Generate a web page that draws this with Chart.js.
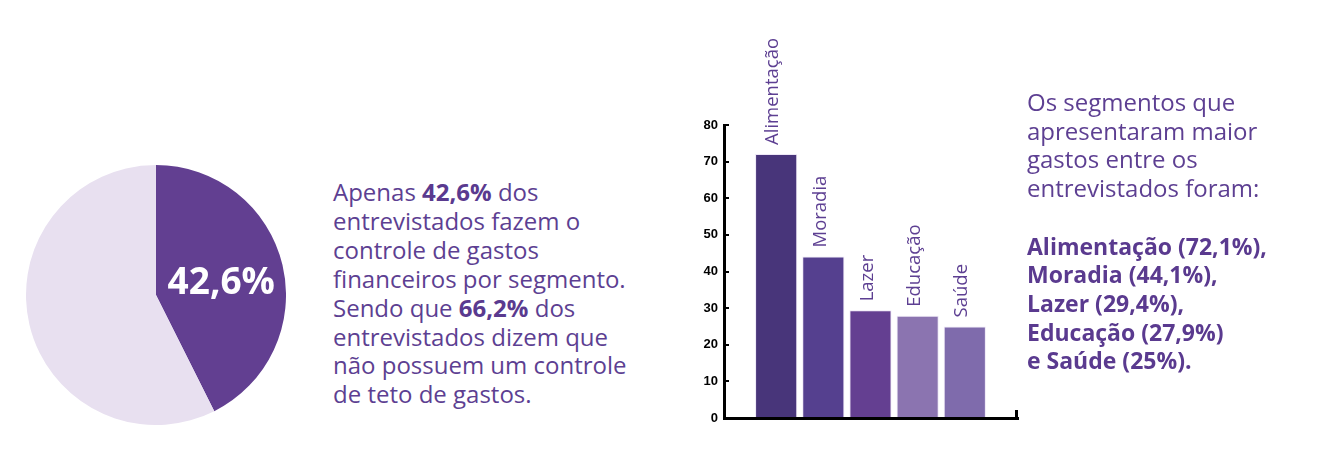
<!DOCTYPE html>
<html lang="pt-BR">
<head>
<meta charset="utf-8">
<script src="https://cdn.jsdelivr.net/npm/chart.js@4.4.1/dist/chart.umd.min.js"></script>
<style>
  html, body { margin: 0; padding: 0; background: #fff; }
  body { width: 1322px; height: 459px; position: relative; overflow: hidden; font-family: "Open Sans", sans-serif; color: #5d3f92; }
  .box { position: absolute; }
  .txt { position: absolute; font-size: 24px; line-height: 28.9px; white-space: nowrap; }
  .txt b { font-weight: 700; color: #5a3a8f; }
  .txt.right b { font-size: 23px; }
</style>
</head>
<body>
<div class="box" style="left:26px; top:165px; width:260px; height:260px;"><canvas id="pieChart"></canvas></div>
<div class="txt" style="left:333px; top:178px;">
  Apenas <b>42,6%</b> dos<br>
  entrevistados fazem o<br>
  controle de gastos<br>
  financeiros por segmento.<br>
  Sendo que <b>66,2%</b> dos<br>
  entrevistados dizem que<br>
  não possuem um controle<br>
  de teto de gastos.
</div>
<div class="box" style="left:690px; top:30px; width:340px; height:400px;"><canvas id="barChart"></canvas></div>
<div class="txt right" style="left:1027px; top:88px; line-height:28.7px;">
  Os segmentos que<br>
  apresentaram maior<br>
  gastos entre os<br>
  entrevistados foram:<br>
  <br>
  <b>Alimentação (72,1%),</b><br>
  <b>Moradia (44,1%),</b><br>
  <b>Lazer (29,4%),</b><br>
  <b>Educação (27,9%)</b><br>
  <b>e Saúde (25%).</b>
</div>
<script>
// pie: share of people who track spending per segment
const pieLabels = ['Fazem controle por segmento', 'Não fazem'];
const pieValues = [42.6, 57.4];
const pieColors = ['#623f91', '#e8e0f0'];

// bars: segments with highest spending (%)
const categories = ['Alimentação', 'Moradia', 'Lazer', 'Educação', 'Saúde'];
const values = [72.1, 44.1, 29.4, 27.9, 25];
const barColors = ['#48357a', '#55408f', '#643f91', '#8b74b0', '#7f6bac'];
const yMax = 80;
const yStep = 10;

Chart.defaults.animation = false;

const pieLabelPlugin = {
    id: 'pieLabel',
    afterDatasetsDraw(chart) {
        const arc = chart.getDatasetMeta(0).data[0];
        const p = arc.getCenterPoint();
        const ctx = chart.ctx;
        ctx.save();
        ctx.fillStyle = '#fff';
        ctx.font = '700 37px "Open Sans"';
        ctx.textAlign = 'center';
        ctx.textBaseline = 'middle';
        ctx.fillText(pieValues[0].toFixed(1).replace('.', ',') + '%', p.x + 2, p.y + 3);
        ctx.restore();
    }
};

new Chart(document.getElementById('pieChart').getContext('2d'), {
    type: 'pie',
    data: {
        labels: pieLabels,
        datasets: [{
            data: pieValues,
            backgroundColor: pieColors,
            borderWidth: 0
        }]
    },
    options: {
        responsive: true,
        maintainAspectRatio: false,
        layout: { padding: 0 },
        plugins: { legend: { display: false }, tooltip: { enabled: false } }
    },
    plugins: [pieLabelPlugin]
});

// rotated category names above each bar + small cap at the end of the x axis
const barLabelPlugin = {
    id: 'barLabels',
    afterDatasetsDraw(chart) {
        const ctx = chart.ctx;
        const meta = chart.getDatasetMeta(0);
        ctx.save();
        ctx.fillStyle = '#5d3f92';
        ctx.font = '18.5px "Open Sans"';
        ctx.textAlign = 'left';
        ctx.textBaseline = 'middle';
        meta.data.forEach((bar, i) => {
            ctx.save();
            ctx.translate(bar.x - 3, bar.y - 9);
            ctx.rotate(-Math.PI / 2);
            ctx.fillText(categories[i], 0, 0);
            ctx.restore();
        });
        const a = chart.chartArea;
        ctx.strokeStyle = '#000';
        ctx.lineWidth = 3;
        ctx.beginPath();
        ctx.moveTo(a.right - 1.5, a.bottom + 1);
        ctx.lineTo(a.right - 1.5, a.bottom - 8);
        ctx.stroke();
        ctx.restore();
    }
};

new Chart(document.getElementById('barChart').getContext('2d'), {
    type: 'bar',
    data: {
        datasets: [{
            data: values.map((v, i) => ({ x: i, y: v })),
            backgroundColor: barColors,
            borderColor: 'rgba(235,228,245,0.9)',
            borderWidth: 1,
            borderSkipped: 'bottom',
            categoryPercentage: 1,
            barPercentage: 0.894
        }]
    },
    options: {
        responsive: true,
        maintainAspectRatio: false,
        layout: { padding: { top: 95, right: 12, bottom: 12, left: 0 } },
        plugins: { legend: { display: false }, tooltip: { enabled: false } },
        scales: {
            x: {
                type: 'linear',
                offset: false,
                min: -1.106,
                max: 5.128,
                ticks: { display: false },
                grid: { display: false },
                border: { display: true, color: '#000', width: 3 },
                afterFit(scale) { scale.height = 0; }
            },
            y: {
                min: 0,
                max: yMax,
                ticks: {
                    stepSize: yStep,
                    padding: 11,
                    color: '#000',
                    font: { family: '"Liberation Sans"', size: 13, weight: 'bold' }
                },
                grid: { drawOnChartArea: false, drawTicks: true, tickLength: -5, color: '#000', lineWidth: 2 },
                border: { display: true, color: '#000', width: 3 },
                afterFit(scale) {
                    scale.width = 34;
                    scale.paddingTop = 0;
                    scale.paddingBottom = 0;
                }
            }
        }
    },
    plugins: [barLabelPlugin]
});
</script>
</body>
</html>
